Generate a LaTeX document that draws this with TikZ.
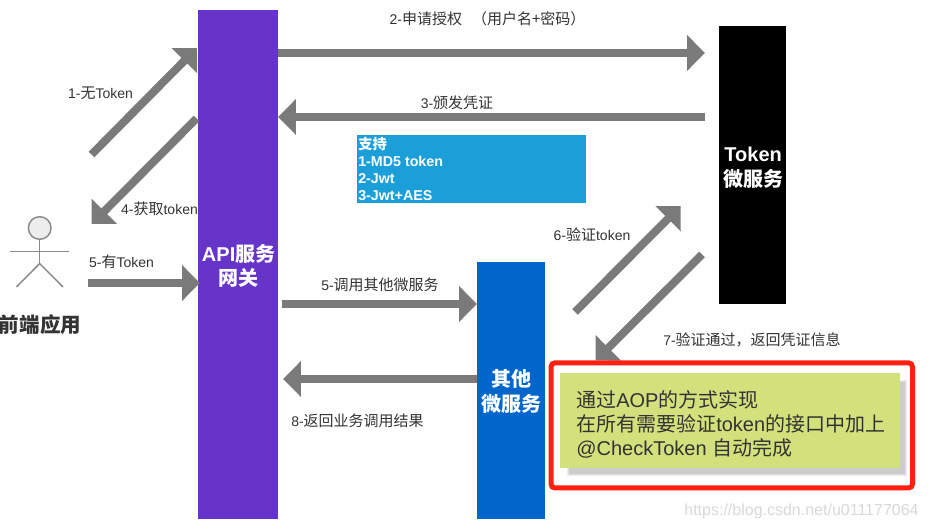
\documentclass[tikz,border=0pt]{standalone}
\usepackage{fontspec}
\setmainfont{Liberation Sans}
\newfontfamily\cjk{Noto Sans CJK SC}
\newcommand{\zh}[1]{{\cjk #1}}
\newcommand{\zhl}[1]{{\cjk\fontsize{11.25}{12.75}\selectfont #1}}
\usetikzlibrary{arrows.meta}
\definecolor{arrowgray}{HTML}{7A7A7A}
\definecolor{actorgray}{HTML}{8A8A8A}
\definecolor{apipurple}{HTML}{6634C8}
\definecolor{otherblue}{HTML}{0066CC}
\definecolor{noteblue}{HTML}{1A9FD9}
\definecolor{notegreen}{HTML}{D2E17C}
\definecolor{alertred}{HTML}{FF2010}
\definecolor{labelgray}{HTML}{333333}
\tikzset{
  fatarrow/.style={draw=arrowgray,line width=6pt,-{Triangle[length=13.4pt,width=26pt]}},
  service/.style={inner sep=0pt,outer sep=0pt,text=white,align=center,font=\fontsize{15}{18.5}\selectfont\bfseries},
  edgelabel/.style={inner sep=0pt,text=labelgray,font=\fontsize{10.5}{12.75}\selectfont,anchor=center},
  actorline/.style={draw=actorgray,line width=1.1pt},
}
\begin{document}
\begin{tikzpicture}[x=0.75pt,y=-0.75pt]
\useasboundingbox (0,0) rectangle (928,530);
\fill[white] (0,0) rectangle (928,530);
% services
\path[fill=apipurple] (198,10) rectangle (278,519);
\node[service,minimum width=60pt,minimum height=381.75pt,anchor=north west,xshift=0.5pt,yshift=-1pt] (apitext) at (198,10) {API\zh{服务}\\\zh{网关}};
\coordinate (apiE) at (278,265);
\path[fill=black] (719,26) rectangle (786,304);
\node[service,minimum width=50.25pt,minimum height=208.5pt,anchor=north west,xshift=0.5pt,yshift=-2.2pt] (tok) at (719,26) {Token\\\zh{微服务}};
\path[fill=otherblue] (477,262) rectangle (545,519);
\node[service,minimum width=51pt,minimum height=192.75pt,anchor=north west,yshift=-0.8pt] (oth) at (477,262) {\zh{其他}\\\zh{微服务}};
% note
\node[fill=noteblue,draw=none,inner sep=0pt,minimum width=172pt,minimum height=51pt,anchor=north west] (sup) at (356.7,135) {};
\node[inner sep=0pt,anchor=north west,align=left,text=white,font=\fontsize{10.7}{12.75}\selectfont\bfseries] (suptext) at (358,137.5) {\zh{支持}\\1-MD5 token\\2-Jwt\\3-Jwt+AES};
% actor
\node[draw=actorgray,line width=1.1pt,fill=black!7,circle,minimum size=17pt,inner sep=0pt] (head) at (39.7,228) {};
\coordinate (hip) at (39.7,263.5);
\coordinate (armL) at (10,251.7);
\coordinate (armR) at (69,251.7);
\coordinate (legL) at (16.5,287);
\coordinate (legR) at (63,287);
\draw[actorline] (head.south) -- (hip);
\draw[actorline] (armL) -- (armR);
\draw[actorline] (legL) -- (hip) -- (legR);
\node[inner sep=0pt,text=labelgray,font=\fontsize{15.4}{18}\selectfont\bfseries] (actor) at (40,325) {\zh{前端应用}};
% arrows
\coordinate (a1s) at (91.5,154.5); \coordinate (a1e) at (197,48);
\coordinate (a4s) at (196.5,118.5); \coordinate (a4e) at (91.7,224);
\coordinate (a5s) at (88,283);
\coordinate (a6s) at (575,312); \coordinate (a6e) at (680.7,206);
\coordinate (a7s) at (702,254.5); \coordinate (a7e) at (595.7,360.5);
\draw[fatarrow] (a1s) -- (a1e);
\draw[fatarrow] (apiE |- 0,53) -- (705,53);
\draw[fatarrow] (705,117) -- (apiE |- 0,117);
\draw[fatarrow] (a4s) -- (a4e);
\draw[fatarrow] (a5s) -- (200,283);
\draw[fatarrow] (282,304) -- (oth.west |- 0,304);
\draw[fatarrow] (a6s) -- (a6e);
\draw[fatarrow] (a7s) -- (a7e);
\draw[fatarrow] (oth.west |- 0,379) -- (283,379);
% edge labels
\node[edgelabel] (l1) at (100.5,93) {1-\zhl{无}Token};
\node[edgelabel] (l2) at (487.5,19) {2-\zhl{申请授权\hspace{7.5pt}（用户名+密码）}};
\node[edgelabel] (l3) at (457,103) {3-\zhl{颁发凭证}};
\node[edgelabel] (l4) at (159.5,209) {4-\zhl{获取}token};
\node[edgelabel] (l5) at (121.5,262) {5-\zhl{有}Token};
\node[edgelabel] (l5b) at (380,285) {5-\zhl{调用其他微服务}};
\node[edgelabel] (l6) at (592,235) {6-\zhl{验证}token};
\node[edgelabel] (l7) at (752,340) {7-\zhl{验证通过，返回凭证信息}};
\node[edgelabel] (l8) at (357.5,421) {8-\zhl{返回业务调用结果}};
% callout
\draw[alertred,line width=3.75pt,rounded corners=3pt] (551,362.8) rectangle (912.5,488);
\fill[black!7] (567,380) rectangle (907,476);
\fill[black!13] (568,381) rectangle (906,475);
\fill[black!20] (569,382) rectangle (905,474);
\node[fill=notegreen,inner sep=0pt,minimum width=254.5pt,minimum height=71.5pt,anchor=north west] (green) at (560,372.7) {};
\node[inner sep=0pt,anchor=north west,align=left,text=labelgray,font=\fontsize{15}{18}\selectfont] (greentext) at (576,390) {\zh{通过}AOP\zh{的方式实现}\\\zh{在所有需要验证}token\zh{的接口中加上}\\@CheckToken \zh{自动完成}};
% watermark
\node[inner sep=0pt,text=black!15,font=\fontsize{12}{14}\selectfont] (wm) at (801.5,511) {https://blog.csdn.net/u011177064};
\end{tikzpicture}
\end{document}
